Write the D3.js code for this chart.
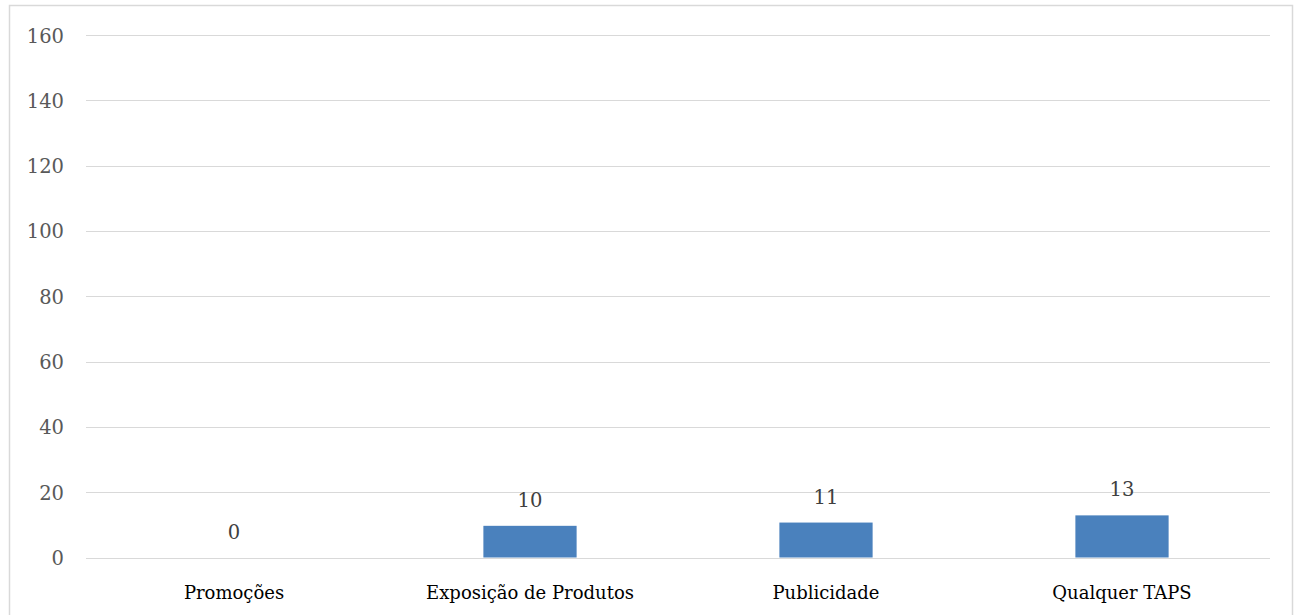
<!DOCTYPE html>
<html>
<head>
<meta charset="utf-8">
<script src="https://cdn.jsdelivr.net/npm/d3@7"></script>
<style>
  body { margin: 0; background: #fff; }
  svg { display: block; }
</style>
</head>
<body>
<div id="chart"></div>
<script>
var categories = ["Promoções", "Exposição de Produtos", "Publicidade", "Qualquer TAPS"],
    values = [0, 9.7, 10.7, 12.9],
    yTicks = [0, 20, 40, 60, 80, 100, 120, 140, 160];

var width = 1297, height = 615,
    margin = {top: 35, right: 27, bottom: 57, left: 86};

var svg = d3.select("#chart").append("svg")
    .attr("width", width)
    .attr("height", height);

// chart frame
svg.append("rect")
    .attr("x", 9.5).attr("y", 5.5)
    .attr("width", 1283).attr("height", 620)
    .attr("fill", "none")
    .attr("stroke", "#d9d9d9")
    .attr("stroke-width", 1.5);

var x = d3.scaleBand()
    .domain(categories)
    .range([margin.left, width - margin.right])
    .paddingInner(0.685)
    .paddingOuter(0.3425);

var y = d3.scaleLinear()
    .domain([0, 160])
    .range([height - margin.bottom - 0.5, margin.top]);

// gridlines
svg.append("g")
    .selectAll("line")
    .data(yTicks)
  .enter().append("line")
    .attr("x1", margin.left).attr("x2", width - margin.right)
    .attr("y1", function(d) { return Math.round(y(d)) + 0.5; })
    .attr("y2", function(d) { return Math.round(y(d)) + 0.5; })
    .attr("stroke", "#d9d9d9")
    .attr("stroke-width", 1);

// y axis labels
var yAxis = d3.axisLeft(y).tickValues(yTicks).tickSize(0).tickPadding(0);
var ga = svg.append("g")
    .attr("transform", "translate(64,0)")
    .call(yAxis);
ga.select(".domain").remove();
ga.selectAll("text")
    .attr("dy", "0.36em")
    .attr("font-family", "'DejaVu Serif', serif")
    .attr("font-size", 19.5)
    .attr("fill", "#595959");

// bars
svg.append("g")
    .selectAll("rect")
    .data(values)
  .enter().append("rect")
    .attr("x", function(d, i) { return x(categories[i]); })
    .attr("width", x.bandwidth())
    .attr("y", function(d) { return y(d); })
    .attr("height", function(d) { return y(0) - y(d); })
    .attr("fill", "#4a81bd");

// value labels
svg.append("g")
    .selectAll("text")
    .data(values)
  .enter().append("text")
    .attr("x", function(d, i) { return x(categories[i]) + x.bandwidth() / 2; })
    .attr("y", function(d) { return y(d) - 19; })
    .attr("text-anchor", "middle")
    .attr("font-family", "'DejaVu Serif', serif")
    .attr("font-size", 19.5)
    .attr("fill", "#404040")
    .text(function(d) { return d3.format(".0f")(d); });

// category labels
var xAxis = d3.axisBottom(x).tickSize(0).tickPadding(0);
var gx = svg.append("g")
    .attr("transform", "translate(0," + (height - margin.bottom) + ")")
    .call(xAxis);
gx.select(".domain").remove();
gx.selectAll("text")
    .attr("dy", 0)
    .attr("y", 41)
    .attr("font-family", "'DejaVu Serif', serif")
    .attr("font-size", 18)
    .attr("fill", "#000");
</script>
</body>
</html>
